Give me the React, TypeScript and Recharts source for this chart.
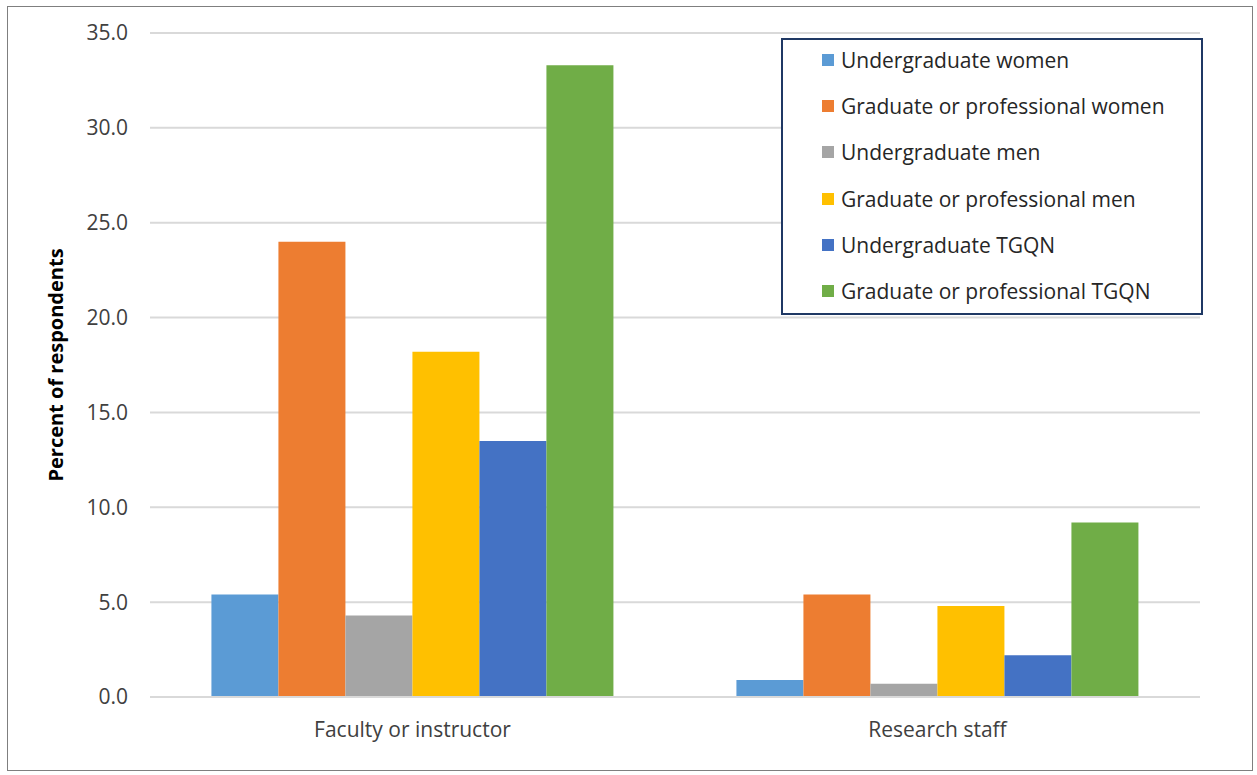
import { BarChart, Bar, XAxis, YAxis, CartesianGrid } from 'recharts'

const categories = ['Faculty or instructor', 'Research staff']
const seriesNames = [
  'Undergraduate women',
  'Graduate or professional women',
  'Undergraduate men',
  'Graduate or professional men',
  'Undergraduate TGQN',
  'Graduate or professional TGQN',
]
const undergradWomen = [5.4, 0.9]
const gradWomen = [24.0, 5.4]
const undergradMen = [4.3, 0.7]
const gradMen = [18.2, 4.8]
const undergradTgqn = [13.5, 2.2]
const gradTgqn = [33.3, 9.2]
const yTicks = [0, 5, 10, 15, 20, 25, 30, 35]

const SERIES_COLORS = ['#5B9BD5', '#ED7D31', '#A5A5A5', '#FFC000', '#4472C4', '#70AD47']
const FONT = '"Open Sans", "Noto Sans", sans-serif'
const TEXT = '#404040'

const seriesValues = [undergradWomen, gradWomen, undergradMen, gradMen, undergradTgqn, gradTgqn]
const keys = seriesNames.map((_, i) => `s${i}`)

const data = categories.map((name, ci) => {
  const row: Record<string, string | number> = { name }
  seriesValues.forEach((vals, si) => {
    row[keys[si]] = vals[ci]
  })
  return row
})

function YLabel({ viewBox }: { viewBox?: { x: number; y: number; width: number; height: number } }) {
  if (!viewBox) return null
  const x = 55
  const y = viewBox.y + viewBox.height / 2
  return (
    <text
      x={x}
      y={y}
      transform={`rotate(-90 ${x} ${y})`}
      textAnchor="middle"
      dominantBaseline="central"
      style={{ fontFamily: FONT, fontSize: 20, fontWeight: 700, fill: '#000' }}
    >
      Percent of respondents
    </text>
  )
}

export default function App() {
  return (
    <div style={{ position: 'absolute', left: 0, top: 0, width: 1257, height: 775, background: '#fff' }}>
      <div
        style={{
          position: 'absolute',
          left: 7,
          top: 6,
          width: 1246,
          height: 765,
          border: '1px solid #7f7f7f',
          boxSizing: 'border-box',
        }}
      />
      <div style={{ position: 'absolute', left: 0, top: 0 }}>
        <BarChart
          width={1257}
          height={775}
          data={data}
          margin={{ top: 33, right: 57, left: 40, bottom: 38 }}
          barCategoryGap="11.7%"
          barGap={0}
        >
          <CartesianGrid vertical={false} stroke="#d9d9d9" strokeWidth={2} />
          <XAxis
            dataKey="name"
            axisLine={{ stroke: '#d9d9d9', strokeWidth: 2 }}
            tickLine={false}
            tickSize={0}
            tickMargin={25}
            height={40}
            tick={{ fontFamily: FONT, fontSize: 21, fill: TEXT }}
          />
          <YAxis
            domain={[0, 35]}
            ticks={yTicks}
            width={110}
            axisLine={false}
            tickLine={false}
            tickSize={0}
            tickMargin={22}
            tickFormatter={(v: number) => v.toFixed(1)}
            tick={{ fontFamily: FONT, fontSize: 21, fill: TEXT }}
            label={<YLabel />}
          />
          {keys.map((k, i) => (
            <Bar key={k} dataKey={k} name={seriesNames[i]} fill={SERIES_COLORS[i]} isAnimationActive={false} />
          ))}
        </BarChart>
      </div>
      <div
        style={{
          position: 'absolute',
          left: 781,
          top: 38,
          width: 422,
          height: 277,
          border: '2px solid #1F3864',
          boxSizing: 'border-box',
          background: '#fff',
        }}
      >
        <div style={{ marginTop: -3 }}>
          {seriesNames.map((n, i) => (
            <div key={n} style={{ display: 'flex', alignItems: 'center', height: 46.2, paddingLeft: 39 }}>
              <span style={{ width: 12, height: 12, background: SERIES_COLORS[i], marginRight: 7, flex: 'none' }} />
              <span style={{ fontFamily: FONT, fontSize: 21, color: '#262626', whiteSpace: 'nowrap' }}>{n}</span>
            </div>
          ))}
        </div>
      </div>
    </div>
  )
}
